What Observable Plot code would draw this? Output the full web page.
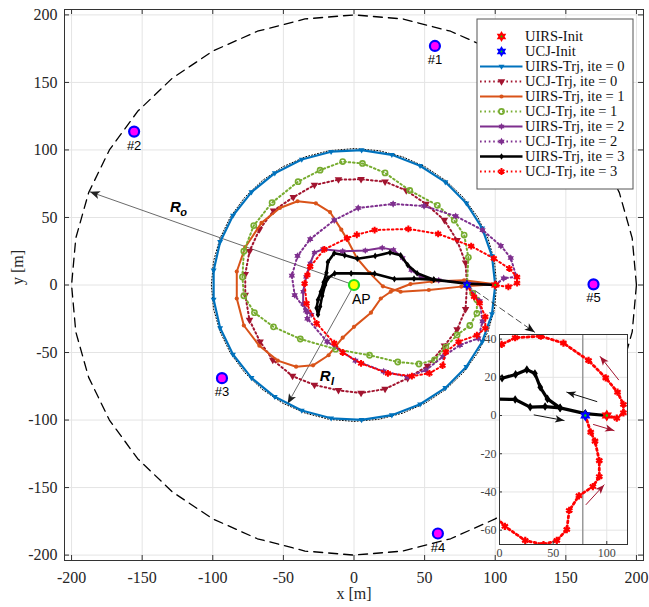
<!DOCTYPE html>
<html><head><meta charset="utf-8">
<script src="https://cdn.jsdelivr.net/npm/d3@7"></script>
<script src="https://cdn.jsdelivr.net/npm/@observablehq/plot@0.6"></script>
<style>
body{margin:0;background:#fff;}
#wrap{position:relative;width:649px;height:607px;overflow:hidden;}
</style></head><body><div id="wrap"></div>
<script>
// ---------------- DATA ----------------
const xTicks = [-200,-150,-100,-50,0,50,100,150,200];
const yTicks = [-200,-150,-100,-50,0,50,100,150,200];
const insetXTicks = [0,50,100];
const insetYTicks = [-60,-40,-20,0,20,40];
const legendLabels = ["UIRS-Init","UCJ-Init","UIRS-Trj, ite = 0","UCJ-Trj, ite = 0","UIRS-Trj, ite = 1","UCJ-Trj, ite = 1","UIRS-Trj, ite = 2","UCJ-Trj, ite = 2","UIRS-Trj, ite = 3","UCJ-Trj, ite = 3"];

// outer boundary (R_o = 200) and inner boundary (R_I)
const outerCircle = [[200,0],[197,34.7],[187.9,68.4],[173.2,100],[153.2,128.6],[128.6,153.2],[100,173.2],[68.4,187.9],[34.7,197],[0,200],[-34.7,197],[-68.4,187.9],[-100,173.2],[-128.6,153.2],[-153.2,128.6],[-173.2,100],[-187.9,68.4],[-197,34.7],[-200,0],[-197,-34.7],[-187.9,-68.4],[-173.2,-100],[-153.2,-128.6],[-128.6,-153.2],[-100,-173.2],[-68.4,-187.9],[-34.7,-197],[0,-200],[34.7,-197],[68.4,-187.9],[100,-173.2],[128.6,-153.2],[153.2,-128.6],[173.2,-100],[187.9,-68.4],[197,-34.7],[200,0]];
const innerCircle = [[101,0],[99.5,17.5],[94.9,34.5],[87.5,50.5],[77.4,64.9],[64.9,77.4],[50.5,87.5],[34.5,94.9],[17.5,99.5],[0,101],[-17.5,99.5],[-34.5,94.9],[-50.5,87.5],[-64.9,77.4],[-77.4,64.9],[-87.5,50.5],[-94.9,34.5],[-99.5,17.5],[-101,0],[-99.5,-17.5],[-94.9,-34.5],[-87.5,-50.5],[-77.4,-64.9],[-64.9,-77.4],[-50.5,-87.5],[-34.5,-94.9],[-17.5,-99.5],[0,-101],[17.5,-99.5],[34.5,-94.9],[50.5,-87.5],[64.9,-77.4],[77.4,-64.9],[87.5,-50.5],[94.9,-34.5],[99.5,-17.5],[101,0]];

const uirs0 = [[100,0],[97.7,21.5],[90.8,42],[79.6,60.5],[64.7,76.2],[46.8,88.3],[26.8,96.4],[5.4,99.9],[-16.2,98.7],[-37,92.9],[-56.1,82.8],[-72.6,68.8],[-85.7,51.5],[-94.8,31.9],[-99.4,10.8],[-99.4,-10.8],[-94.8,-31.9],[-85.7,-51.5],[-72.6,-68.8],[-56.1,-82.8],[-37,-92.9],[-16.2,-98.7],[5.4,-99.9],[26.8,-96.4],[46.8,-88.3],[64.7,-76.2],[79.6,-60.5],[90.8,-42],[97.7,-21.5],[100,0]];
const ucj0 = [[80,0],[79,16.5],[73,33],[64,48],[51,60],[37,70],[22,76.5],[5,78.3],[-11,78],[-28,74],[-43,65],[-57,55],[-67,41],[-74,25],[-77,8],[-77,-7.5],[-74,-26],[-66.5,-42],[-57.5,-55.5],[-43.5,-67.5],[-28,-74],[-11,-78],[5,-80],[22,-77],[38,-69],[52,-60],[64,-45],[73,-33],[79,-18],[80,0]];
const uirs1 = [[100,0.5],[76,-1.2],[53,-3.7],[33,-5],[20.5,-1],[11,9],[2,20],[-5,34],[-9,41],[-17,54],[-27,60.5],[-40,62],[-52.5,57],[-65.5,46],[-77,28],[-83,10],[-83,-10],[-78,-30],[-67,-45],[-54,-56],[-41,-60.5],[-29,-59.5],[-18,-52],[-8,-39],[0,-31],[12,-20.5],[19,-10],[26,-5],[40,0.7],[55,2.5],[78,3.5],[100,0.5]];
const ucj1 = [[80,0],[81,20.5],[78,37],[71,48],[59,59],[39.5,70],[22,83],[6,90],[-8,91.4],[-24,85],[-39.6,76.5],[-58,61],[-71,44],[-78,25],[-79,6],[-78,-8],[-70.5,-20.5],[-57,-31],[-38,-40],[-13,-47.5],[11,-52],[31,-57],[46,-58.5],[57,-55.5],[65,-46],[73,-37],[82,-30],[87,-21],[87,-11],[84,-6],[80,0]];
const uirs2 = [[100,0],[80,1.5],[60,3.5],[47.5,6],[40.5,11],[34.5,20],[28,26],[20,27.5],[8,25.5],[-8,25],[-22,26.5],[-28,24],[-31,16],[-34,6],[-36,-5],[-36,-14],[-33,-20],[-30,-22]];
const ucj2 = [[80,0],[89,-12],[91,-27],[88,-39.5],[75,-44.5],[63,-53],[51,-63],[38,-68],[21,-64],[1,-56],[-19,-42],[-33,-25],[-34,-19],[-42,-7.5],[-44,7],[-40,21.5],[-31,34],[-14,48],[3,57],[27.7,60],[49.6,58.5],[72,51],[91,40.7],[104,29],[111,20],[115,6],[106,5],[100,0]];
const uirs3 = [[100,0],[80,1],[56.5,4],[44.7,8.7],[38,14.8],[33,22],[25.5,24],[15,21.5],[2.4,19.5],[-6.6,22],[-14,23.5],[-18.5,17],[-19.5,9],[-21.5,2],[-23.5,-5],[-25.5,-11],[-26.5,-17],[-25.5,-22],[-24,-16],[-22.5,-8],[-20.5,0],[-18.5,5],[-13.7,8.6],[-2,8.6],[14.6,8.4],[28.6,4.4],[42.5,4.7],[56.5,4],[80,1],[100,0]];
const ucj3 = [[80,0],[85,-8.7],[89,-13.4],[93,-23.6],[93,-32],[87,-37.2],[74,-42],[65,-49.7],[62.7,-59.7],[53.4,-65.4],[41,-67.5],[24,-65.4],[5,-58],[-8,-50],[-14,-43],[-26.5,-28.4],[-33.6,-13.6],[-35,1],[-33,7.4],[-31,13.6],[-21,26.4],[-5,34.6],[2,37.2],[14.6,40.7],[38.5,41.5],[59.6,37.9],[83,28.8],[99,19.7],[110,12.2],[115.5,5.8],[115.5,1.4],[109.3,-1.4],[100,0]];

const uirsInit = [[100,0]];
const ucjInit = [[80,0]];
const apPos = [[0,0]];
const users = [{id:"#1",x:57.3,y:177},{id:"#2",x:-155.7,y:113.6},{id:"#3",x:-93.5,y:-69},{id:"#4",x:59.4,y:-184},{id:"#5",x:169.6,y:0.5}];
const arrowRo = [[0,0],[-187,69]];
const arrowRI = [[0,0],[-47,-88]];
const pointer = [[80,0],[128,-35]];
const labelRo = [[-126.4,57.4]];
const labelRI = [[-20.5,-67.5]];
const insetMarkX = [77.6];
const insetArrowsRed = [[[111,18.7],[93.8,30.9]],[[87.6,-4.7],[106.8,-7.9]],[[80.7,-46.6],[97.5,-36.3]]];
const insetArrowsBlack = [[[90.7,7.3],[62.7,12.2]],[[32.3,0.3],[60.2,-2.6]]];

// ---------------- SYMBOLS ----------------
const hexagram = {draw(c, s){ const r = Math.sqrt(s/Math.PI); for (const off of [-90, 90]) { for (let i=0;i<3;i++){ const a=(off+i*120)*Math.PI/180; const px=r*Math.cos(a), py=r*Math.sin(a); if(i===0) c.moveTo(px,py); else c.lineTo(px,py);} c.closePath(); } }};
const triDown = {draw(c, s){ const r = Math.sqrt(s/Math.PI); c.moveTo(0, r); c.lineTo(-r*0.9, -r*0.55); c.lineTo(r*0.9, -r*0.55); c.closePath(); }};
const diamond = {draw(c, s){ const r = Math.sqrt(s/Math.PI); c.moveTo(0,-r*1.2); c.lineTo(r*0.8,0); c.lineTo(0,r*1.2); c.lineTo(-r*0.8,0); c.closePath(); }};
const arrowHead = {draw(c, s){ const r = Math.sqrt(s/Math.PI); c.moveTo(0,0); c.lineTo(-r*0.8, r*2); c.lineTo(0, r*1.5); c.lineTo(r*0.8, r*2); c.closePath(); }};

const DOT = "1.6,2.8";
const series = [
 {data: uirs0, color:"#0072BD", width:2.2, symbol: triDown, r:3.3, fill:"#0072BD"},
 {data: ucj0, color:"#A2142F", width:2, dash:DOT, symbol: triDown, r:4.2, fill:"#A2142F"},
 {data: uirs1, color:"#D95319", width:2, symbol:"circle", r:2.1, fill:"#D95319"},
 {data: ucj1, color:"#77AC30", width:2, dash:DOT, symbol:"circle", r:2.6, fill:"none", stroke:"#77AC30", sw:1.6},
 {data: uirs2, color:"#7E2F8E", width:2, symbol: hexagram, r:3.4, fill:"#7E2F8E"},
 {data: ucj2, color:"#7E2F8E", width:2, dash:DOT, symbol: hexagram, r:3.7, fill:"#7E2F8E"},
 {data: uirs3, color:"#000000", width:2.6, symbol: diamond, r:2.8, fill:"#000000"},
 {data: ucj3, color:"#FF0000", width:2, dash:DOT, symbol:"asterisk", r:3.2, fill:"none", stroke:"#FF0000", sw:2}
];

const X = d => d[0], Y = d => d[1];
function headRotate(a, b, kx, ky){ return Math.atan2(-(b[1]-a[1])*ky, (b[0]-a[0])*kx)*180/Math.PI + 90; }

// ---------------- MAIN PLOT ----------------
const W=649, H=607, ML=64, MR=6, MT=9, MB=47;
const XD=[-205,205], YD=[-204,204];
const kx=(W-ML-MR)/(XD[1]-XD[0]), ky=(H-MT-MB)/(YD[1]-YD[0]);
const serif = "'Liberation Serif', 'Times New Roman', serif";
const sans = "'Liberation Sans', Arial, sans-serif";

const main = Plot.plot({
  width: W, height: H, marginLeft: ML, marginRight: MR, marginTop: MT, marginBottom: MB,
  x: {domain: XD, ticks: xTicks, tickSize: 0, tickPadding: 11, tickFormat: d => String(d), label: null},
  y: {domain: YD, ticks: yTicks, tickSize: 0, tickPadding: 7, tickFormat: d => String(d), label: null},
  style: {fontFamily: serif, fontSize: "16px", color: "#262626", background: "white", overflow: "visible"},
  marks: [
    Plot.ruleX(xTicks, {x: d => d, stroke: "#e4e4e4"}),
    Plot.ruleY(yTicks, {y: d => d, stroke: "#e4e4e4"}),
    Plot.line(outerCircle, {x: X, y: Y, stroke: "black", strokeWidth: 1.3, strokeDasharray: "9,6"}),
    Plot.line(innerCircle, {x: X, y: Y, stroke: "black", strokeWidth: 1, strokeDasharray: "1,2"}),
    Plot.line(arrowRo, {x: X, y: Y, stroke: "#444", strokeWidth: 0.8}),
    Plot.dot([arrowRo[1]], {x: X, y: Y, symbol: arrowHead, r: 5, fill: "#222", rotate: headRotate(arrowRo[0], arrowRo[1], kx, ky)}),
    Plot.line(arrowRI, {x: X, y: Y, stroke: "#444", strokeWidth: 0.8}),
    Plot.dot([arrowRI[1]], {x: X, y: Y, symbol: arrowHead, r: 5, fill: "#222", rotate: headRotate(arrowRI[0], arrowRI[1], kx, ky)}),
    ...series.flatMap(s => [
      Plot.line(s.data, {x: X, y: Y, stroke: s.color, strokeWidth: s.width, strokeDasharray: s.dash || undefined, strokeLinejoin: "round"}),
      Plot.dot(s.data, {x: X, y: Y, symbol: s.symbol, r: s.r, fill: s.fill, stroke: s.stroke || "none", strokeWidth: s.sw || 1})
    ]),
    Plot.line(pointer, {x: X, y: Y, stroke: "#222", strokeWidth: 0.8, strokeDasharray: "6,4"}),
    Plot.dot([pointer[1]], {x: X, y: Y, symbol: arrowHead, r: 5, fill: "#111", rotate: headRotate(pointer[0], pointer[1], kx, ky)}),
    Plot.dot(uirsInit, {x: X, y: Y, symbol: hexagram, r: 5, fill: "#FF0000"}),
    Plot.dot(uirsInit, {x: X, y: Y, r: 1, fill: "#00dd00"}),
    Plot.dot(ucjInit, {x: X, y: Y, symbol: hexagram, r: 5, fill: "#0000FF"}),
    Plot.dot(ucjInit, {x: X, y: Y, r: 1, fill: "#00dd00"}),
    Plot.dot(apPos, {x: X, y: Y, r: 5, fill: "#FFFF00", stroke: "#22DD22", strokeWidth: 2.2}),
    Plot.text(apPos, {x: X, y: Y, text: () => "AP", textAnchor: "start", dx: -2, dy: 15, fontFamily: sans, fontSize: 14, fill: "black"}),
    Plot.dot(users, {x: "x", y: "y", r: 5, fill: "#FF00FF", stroke: "#0000FF", strokeWidth: 2.2}),
    Plot.text(users, {x: "x", y: "y", text: "id", dy: 14, fontFamily: sans, fontSize: 13, fill: "black"}),
    Plot.text(labelRo, {x: X, y: Y, text: () => "R", fontFamily: sans, fontSize: 15, fontWeight: "bold", fontStyle: "italic", fill: "black"}),
    Plot.text(labelRo, {x: X, y: Y, text: () => "o", dx: 8, dy: 5, fontFamily: sans, fontSize: 11, fontWeight: "bold", fontStyle: "italic", fill: "black"}),
    Plot.text(labelRI, {x: X, y: Y, text: () => "R", fontFamily: sans, fontSize: 15, fontWeight: "bold", fontStyle: "italic", fill: "black"}),
    Plot.text(labelRI, {x: X, y: Y, text: () => "I", dx: 7.5, dy: 5, fontFamily: sans, fontSize: 11, fontWeight: "bold", fontStyle: "italic", fill: "black"}),
    Plot.ruleX(xTicks, {x: d => d, y1: YD[0], y2: YD[0] + 5/ky, stroke: "#333"}),
    Plot.ruleX(xTicks, {x: d => d, y1: YD[1], y2: YD[1] - 5/ky, stroke: "#333"}),
    Plot.ruleY(yTicks, {y: d => d, x1: XD[0], x2: XD[0] + 5/kx, stroke: "#333"}),
    Plot.ruleY(yTicks, {y: d => d, x1: XD[1], x2: XD[1] - 5/kx, stroke: "#333"}),
    Plot.frame({stroke: "#333", strokeWidth: 1}),
    Plot.text(["x [m]"], {frameAnchor: "bottom", dy: 38, text: d => d, fontSize: 16, fill: "#262626"}),
    Plot.text(["y [m]"], {frameAnchor: "left", dx: -47, rotate: -90, text: d => d, fontSize: 16, fill: "#262626"})
  ]
});

// ---------------- LEGEND ----------------
const LW = 157, LH = 171;
const legendSwatches = [
  {symbol: hexagram, r: 5.5, fill: "#FF0000"},
  {symbol: hexagram, r: 5.5, fill: "#0000FF"},
  ...series
];
const legend = Plot.plot({
  width: LW, height: LH, marginLeft: 0, marginRight: 0, marginTop: 0, marginBottom: 0,
  x: {domain: [0, LW], range: [0, LW], axis: null},
  y: {type: "point", domain: legendLabels, range: [10.3, 160.3], axis: null},
  style: {fontFamily: serif, fontSize: "14.5px", background: "transparent", overflow: "visible"},
  marks: [
    Plot.frame({fill: "white", stroke: "#555", inset: 0.5}),
    ...legendSwatches.flatMap((s, i) => [
      ...(s.data ? [Plot.ruleY([legendLabels[i]], {y: d => d, x1: 4, x2: 46.5, stroke: s.color, strokeWidth: s.width, strokeDasharray: s.dash || undefined})] : []),
      Plot.dot([legendLabels[i]], {x: 25, y: d => d, symbol: s.symbol, r: s.r, fill: s.fill, stroke: s.stroke || "none", strokeWidth: s.sw || 1}),
      ...(s.data ? [] : [Plot.dot([legendLabels[i]], {x: 25, y: d => d, r: 1, fill: "#00dd00"})])
    ]),
    Plot.text(legendLabels, {x: 48.5, y: d => d, text: d => d, textAnchor: "start", fill: "#111", fontSize: 14.5})
  ]
});

// ---------------- INSET ----------------
const IW = 128, IH = 210, IML = 26, IMR = 1, IMT = 1, IMB = 18;
const IXD = [0, 119.3], IYD = [-67.5, 42.4];
const ikx = IW/(IXD[1]-IXD[0]), iky = IH/(IYD[1]-IYD[0]);
const inset = Plot.plot({
  width: IW+IML+IMR, height: IH+IMT+IMB, marginLeft: IML, marginRight: IMR, marginTop: IMT, marginBottom: IMB,
  x: {domain: IXD, ticks: insetXTicks, tickSize: 0, tickPadding: 4, tickFormat: d => String(d), label: null},
  y: {domain: IYD, ticks: insetYTicks, tickSize: 0, tickPadding: 3, tickFormat: d => String(d), label: null},
  style: {fontFamily: serif, fontSize: "12px", color: "#444", background: "transparent", overflow: "visible"},
  marks: [
    Plot.frame({fill: "white"}),
    Plot.ruleX(insetXTicks, {x: d => d, stroke: "#e4e4e4"}),
    Plot.ruleY(insetYTicks, {y: d => d, stroke: "#e4e4e4"}),
    Plot.ruleX(insetMarkX, {x: d => d, stroke: "#9a9a9a", strokeWidth: 1.5}),
    Plot.line(uirs3, {x: X, y: Y, stroke: "black", strokeWidth: 3.2, strokeLinejoin: "round", clip: true}),
    Plot.dot(uirs3, {x: X, y: Y, symbol: diamond, r: 3.6, fill: "black", clip: true}),
    Plot.line(ucj3, {x: X, y: Y, stroke: "#FF0000", strokeWidth: 2.8, strokeDasharray: "2,3", clip: true}),
    Plot.dot(ucj3, {x: X, y: Y, symbol: "asterisk", r: 3.4, fill: "none", stroke: "#FF0000", strokeWidth: 2.2, clip: true}),
    Plot.dot(uirsInit, {x: X, y: Y, symbol: hexagram, r: 6, fill: "#FF0000"}),
    Plot.dot(uirsInit, {x: X, y: Y, r: 1.2, fill: "#00dd00"}),
    Plot.dot(ucjInit, {x: X, y: Y, symbol: hexagram, r: 6, fill: "#0000FF"}),
    Plot.dot(ucjInit, {x: X, y: Y, r: 1.2, fill: "#00dd00"}),
    ...insetArrowsRed.flatMap(a => [
      Plot.line(a, {x: X, y: Y, stroke: "#A2142F", strokeWidth: 1}),
      Plot.dot([a[1]], {x: X, y: Y, symbol: arrowHead, r: 4.5, fill: "#A2142F", rotate: headRotate(a[0], a[1], ikx, iky)})
    ]),
    ...insetArrowsBlack.flatMap(a => [
      Plot.line(a, {x: X, y: Y, stroke: "#111", strokeWidth: 1}),
      Plot.dot([a[1]], {x: X, y: Y, symbol: arrowHead, r: 4.5, fill: "#111", rotate: headRotate(a[0], a[1], ikx, iky)})
    ]),
    Plot.ruleX(insetXTicks, {x: d => d, y1: IYD[0], y2: IYD[0] + 3/iky, stroke: "#333"}),
    Plot.ruleY(insetYTicks, {y: d => d, x1: IXD[0], x2: IXD[0] + 3/ikx, stroke: "#333"}),
    Plot.frame({stroke: "#333", strokeWidth: 1})
  ]
});

const wrap = document.getElementById("wrap");
function place(el, left, top){ el.style.position = "absolute"; el.style.left = left + "px"; el.style.top = top + "px"; el.style.maxWidth = "none"; wrap.appendChild(el); }
place(main, 0, 0);
place(inset, 499.3 - IML, 334 - IMT);
place(legend, 476, 18);
</script></body></html>
